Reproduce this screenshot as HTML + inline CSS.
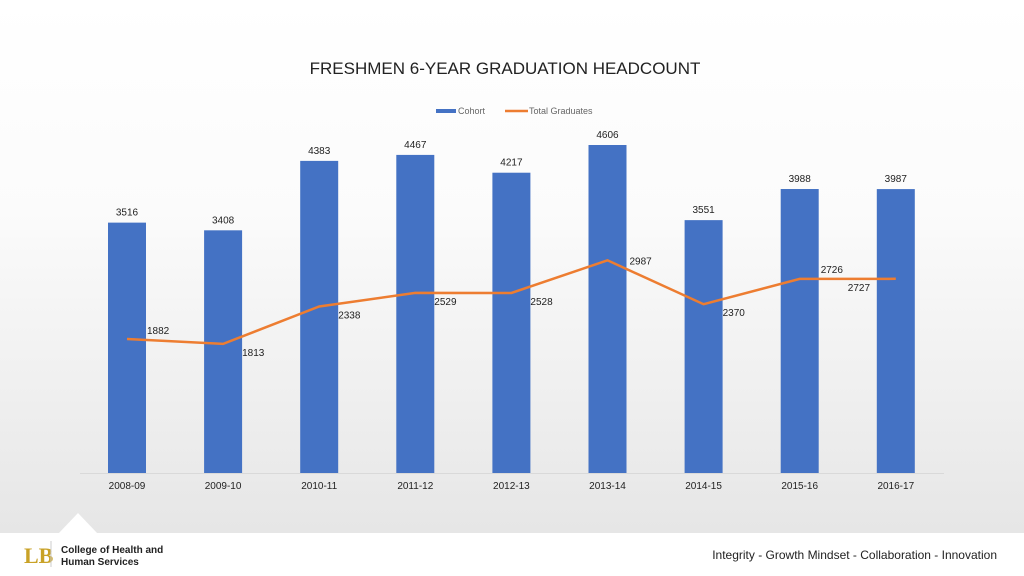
<!DOCTYPE html>
<html><head><meta charset="utf-8"><style>
body{margin:0;width:1024px;height:576px;overflow:hidden;font-family:"Liberation Sans",sans-serif;}
#bg{position:absolute;left:0;top:0;width:1024px;height:533px;background:linear-gradient(#ffffff 0%,#fbfbfb 40%,#e6e6e6 100%);}
#foot{position:absolute;left:0;top:533px;width:1024px;height:43px;background:#fff;}
</style></head><body>
<div id="bg"></div>
<div id="foot"></div>
<svg width="1024" height="576" style="position:absolute;left:0;top:0" id="chart">
<polygon points="58,534 78,513 98,534" fill="#fff"/>
<text x="505" y="74" text-anchor="middle" font-size="17" fill="#222">FRESHMEN 6-YEAR GRADUATION HEADCOUNT</text>
<g>
<rect x="436" y="109" width="20" height="4" fill="#4472c4"/>
<text x="458" y="114" font-size="9" fill="#666">Cohort</text>
<line x1="505" y1="111" x2="528" y2="111" stroke="#ed7d31" stroke-width="2.5"/>
<text x="529" y="114" font-size="9" fill="#666">Total Graduates</text>
</g>
<line x1="80" y1="473.5" x2="944" y2="473.5" stroke="#d9d9d9"/>
<g id="marks"></g>
<g>
<text x="24" y="563" font-size="22" font-family="Liberation Serif" font-weight="bold" fill="#c9a227">LB</text>
<line x1="51" y1="541" x2="51" y2="567" stroke="#ccc"/>
<text x="61" y="553" font-size="10" font-weight="bold" fill="#222">College of Health and</text>
<text x="61" y="565" font-size="10" font-weight="bold" fill="#222">Human Services</text>
</g>
<text x="997" y="559" text-anchor="end" font-size="12" fill="#222">Integrity - Growth Mindset - Collaboration - Innovation</text>
</svg>
<script>
const categories=["2008-09","2009-10","2010-11","2011-12","2012-13","2013-14","2014-15","2015-16","2016-17"];
const cohort=[3516,3408,4383,4467,4217,4606,3551,3988,3987];
const graduates=[1882,1813,2338,2529,2528,2987,2370,2726,2727];
const NS="http://www.w3.org/2000/svg";
const g=document.getElementById('marks');
const x=i=>127+i*96.1;
const y=v=>473-v*0.07121;
function mk(t,a){const e=document.createElementNS(NS,t);for(const k in a)e.setAttribute(k,a[k]);g.appendChild(e);return e;}
categories.forEach((c,i)=>{
 const b=mk('rect',{x:x(i)-19,y:y(cohort[i]),width:38,height:473-y(cohort[i]),fill:'#4472c4'});
 
 
 const t=mk('text',{x:x(i),y:y(cohort[i])-7,'font-size':10,fill:'#222','text-anchor':'middle'});
 t.textContent=cohort[i];
 
 
 const xl=mk('text',{x:x(i),y:489,'font-size':10,fill:'#222','text-anchor':'middle'});
 xl.textContent=c;
 
 
});
const pl=mk('polyline',{points:graduates.map((v,i)=>x(i)+','+y(v)).join(' '),fill:'none',stroke:'#ed7d31','stroke-width':2.5});


graduates.forEach((v,i)=>{
 const t=mk('text',{x:x(i)+19,y:y(v)+12,'font-size':10,fill:'#222'});
 if(i==0){t.setAttribute('x',x(i)+20);t.setAttribute('y',y(v)-5);}
 if(i==8){t.setAttribute('x',x(i)-48);t.setAttribute('y',y(v)+12);}
 if(i==5){t.setAttribute('x',x(i)+22);t.setAttribute('y',y(v)+4);}
 if(i==7){t.setAttribute('x',x(i)+21);t.setAttribute('y',y(v)-6);}
 t.textContent=v;
 
 
});
</script>
</body></html>
